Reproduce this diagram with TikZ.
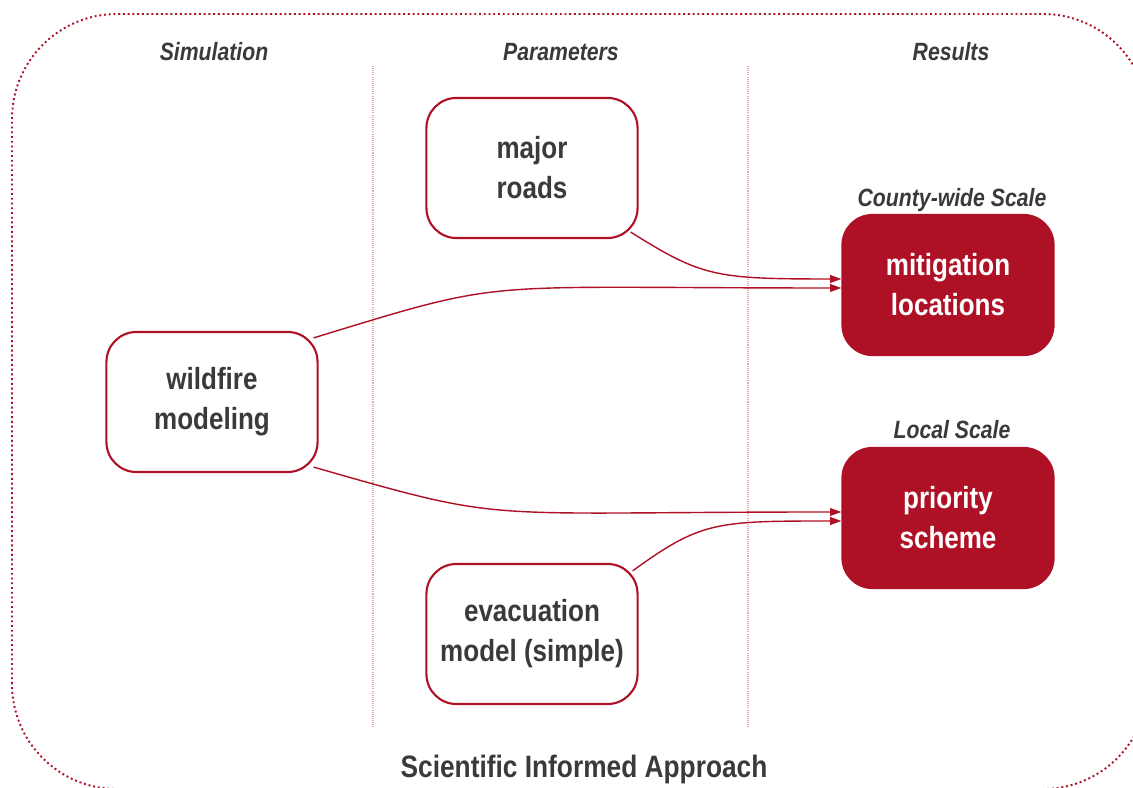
\documentclass[tikz,border=0pt]{standalone}
\usepackage{fontspec}
\setmainfont{Liberation Sans}[FakeStretch=0.85]
\usepackage{xcolor}
\usepackage{tikz}
\usetikzlibrary{arrows.meta}
\definecolor{firered}{RGB}{174,17,38}
\definecolor{inkgray}{RGB}{58,58,58}

\begin{document}
\begin{tikzpicture}[
    x=0.01cm, y=0.01cm,
    box/.style={rectangle, draw=firered, line width=0.6pt, rounded corners=0.3cm, minimum width=2.11cm, minimum height=1.4cm, align=center, font=\fontsize{8.7}{11.4}\selectfont\bfseries},
    param/.style={box, fill=white, text=inkgray},
    result/.style={box, fill=firered, text=white},
    header/.style={anchor=base, text=inkgray, font=\fontsize{7.1}{8.5}\selectfont\bfseries\itshape},
    scaletag/.style={header},
    frame/.style={draw=firered, line width=0.55pt, dash pattern=on 0.55pt off 0.8pt, rounded corners=1.05cm},
    divider/.style={draw=firered!35, line width=0.3pt, dash pattern=on 0.3pt off 0.3pt},
    arrow/.style={-{Triangle[length=3.2pt,width=2.2pt]}, draw=firered, line width=0.4pt}
]
\useasboundingbox (0,0) rectangle (1133,788);

% Outer frame and columns
\draw[frame] (12,-1) rectangle (1148,774);
\draw[divider] (373,722) -- (373,60);
\draw[divider] (748,722) -- (748,60);

% Column headers
\node[header] (head_sim) at (214,727) {Simulation};
\node[header] (head_par) at (561,727) {Parameters};
\node[header] (head_res) at (951,727) {Results};

% Simulation and parameters
\node[param] (wildfire) at (212,386) {wildfire\\modeling};
\node[param] (roads) at (532,620) {major\\roads};
\node[param] (evacuation) at (532,154) {evacuation\\model (simple)};

% Results
\node[scaletag] (county_scale) at (952,581) {County-wide Scale};
\node[result] (mitigation) at (948,503) {mitigation\\locations};
\node[scaletag] (local_scale) at (952,349) {Local Scale};
\node[result] (priority) at (948,270) {priority\\scheme};

% Title
\node[anchor=base, text=inkgray, font=\fontsize{8.8}{10}\selectfont\bfseries] (title) at (584,10) {Scientific Informed Approach};

% Connections
\draw[arrow] ([xshift=-0.08cm,yshift=0.07cm]roads.south east) to[out=-32, in=180, in looseness=1.5] ([yshift=0.06cm]mitigation.west);
\draw[arrow] ([xshift=-0.05cm,yshift=-0.07cm]wildfire.north east) to[out=17, in=180, in looseness=1.8] ([yshift=-0.03cm]mitigation.west);
\draw[arrow] ([xshift=-0.05cm,yshift=0.06cm]wildfire.south east) to[out=-16, in=180, in looseness=1.8] ([yshift=0.06cm]priority.west);
\draw[arrow] ([xshift=-0.06cm,yshift=-0.08cm]evacuation.north east) to[out=36, in=180, in looseness=1.5] ([yshift=-0.03cm]priority.west);

\end{tikzpicture}
\end{document}
